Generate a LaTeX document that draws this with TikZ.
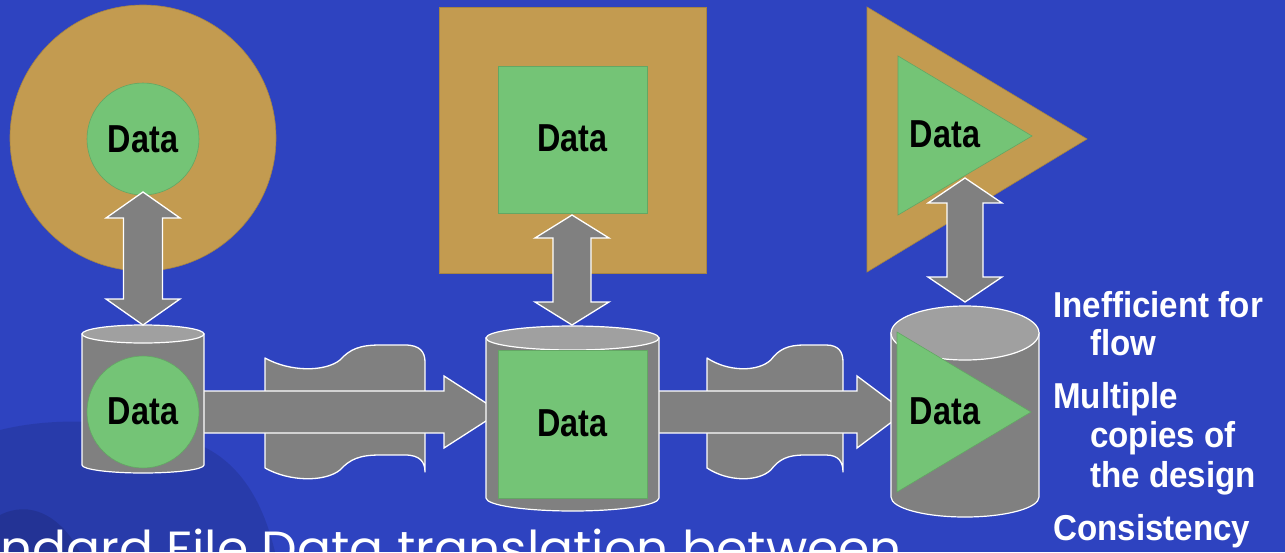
\documentclass[tikz,border=0pt]{standalone}
\usepackage{fontspec}
\newfontfamily\datafont{Liberation Sans}[FakeStretch=0.83]
\newfontfamily\notefont{Liberation Sans}[FakeStretch=0.92]
\newfontfamily\subfont{Poppins}
\definecolor{bg}{RGB}{46,67,192}
\definecolor{tanc}{RGB}{195,155,80}
\definecolor{grn}{RGB}{116,196,118}
\definecolor{gry}{RGB}{128,128,128}
\definecolor{gryl}{RGB}{160,160,160}
\tikzset{
  tanshape/.style={fill=tanc, draw=tanc!85!black, line width=0.6pt},
  grnshape/.style={fill=grn, draw=grn!85!black, line width=0.6pt},
  block/.style={fill=gry, draw=white, line width=1.3pt, line join=miter},
  cylbody/.style={fill=gry, draw=white, line width=1.2pt},
  cyltop/.style={fill=gryl, draw=white, line width=1.2pt},
  datalbl/.style={font=\datafont\bfseries\fontsize{39}{39}\selectfont, text=black, inner sep=0pt},
  note/.style={font=\notefont\bfseries\fontsize{36}{36}\selectfont, text=white, anchor=base west, inner sep=0pt}
}
\newcommand\vdarrow[6]{% cx, ytop, ybot, half shaft, half head, head length
  \draw[block] (#1,#2) -- (#1+#5,#2+#6) -- (#1+#4,#2+#6) -- (#1+#4,#3-#6) -- (#1+#5,#3-#6)
    -- (#1,#3) -- (#1-#5,#3-#6) -- (#1-#4,#3-#6) -- (#1-#4,#2+#6) -- (#1-#5,#2+#6) -- cycle;}
\newcommand\hsarrow[6]{% x0, xbase, xtip, yc, half shaft, half head
  \draw[block] (#1,#4-#5) -- (#2,#4-#5) -- (#2,#4-#6) -- (#3,#4) -- (#2,#4+#6) -- (#2,#4+#5) -- (#1,#4+#5);}
\newcommand\cyl[6]{% cx, rx, ytop, rytop, ybot, rybot
  \draw[cylbody] (#1-#2,#3) -- (#1-#2,#5) arc[start angle=180,end angle=360,x radius=#2pt,y radius=#6pt] -- (#1+#2,#3) -- cycle;
  \draw[cyltop] (#1,#3) ellipse[x radius=#2pt, y radius=#4pt];}
\newcommand\scrollat[2]{%
  \begin{scope}[shift={(#1,0)}, xscale=#2]
  \draw[block, line join=round] (0,358) .. controls (25,372) and (60,372) .. (75,360)
     .. controls (85,349) and (95,345) .. (115,345) -- (140,345)
     .. controls (155,345) and (160,352) .. (160,362) -- (160,472)
     .. controls (160,462) and (155,455) .. (140,455) -- (115,455)
     .. controls (95,455) and (85,459) .. (75,470)
     .. controls (60,482) and (25,482) .. (0,468) -- cycle;
  \end{scope}}
\begin{document}
\begin{tikzpicture}[x=1pt, y=-1pt]
\useasboundingbox (0,0) rectangle (1285,552);
\fill[bg] (0,0) rectangle (1285,552);
% faint background photo
\fill[black, opacity=0.11] (0,430) .. controls (60,415) and (140,420) .. (200,445)
   .. controls (245,465) and (265,510) .. (275,552) -- (0,552) -- cycle;
\fill[black, opacity=0.12] (0,515) .. controls (30,500) and (60,515) .. (80,552) -- (0,552) -- cycle;
% outer tan shapes
\fill[tanshape] (143,138) circle[radius=133pt];
\draw[tanshape] (439,7) rectangle (706,273);
\draw[tanshape] (867,7) -- (867,272) -- (1087,139) -- cycle;
% inner data shapes (top row)
\node[circle, grnshape, minimum size=112pt, inner sep=0pt] (c1) at (143,139) {};
\node[datalbl] (d1) at (c1.center) {Data};
\node[grnshape, minimum width=149pt, minimum height=147pt, inner sep=0pt] (s1) at (572.5,139.5) {};
\node[datalbl] (d2) at (572.5,138) {Data};
\draw[grnshape] (898,56) -- (898,215) -- (1032,136) -- cycle;
\node[datalbl] (d3) at (945,134) {Data};
% translation scrolls
\scrollat{265}{1}
\scrollat{707}{0.85}
% horizontal arrows
\hsarrow{195}{444}{500}{412}{21}{36}
\hsarrow{650}{857}{905}{412}{21}{36}
% cylinders
\cyl{143}{61}{334}{9}{465}{8}
\cyl{572.5}{86.5}{338}{12}{498}{13}
\cyl{965}{74}{333}{27}{497}{20}
% data in cylinders
\node[circle, grnshape, minimum size=112pt, inner sep=0pt] (c2) at (143,412) {};
\node[datalbl] (d4) at (143,411) {Data};
\node[grnshape, minimum width=149pt, minimum height=148pt, inner sep=0pt] (s2) at (572.5,424) {};
\node[datalbl] (d5) at (572.5,423) {Data};
\draw[grnshape] (897,332) -- (897,492) -- (1031,412) -- cycle;
\node[datalbl] (d6) at (945,411) {Data};
% vertical double arrows
\vdarrow{143}{192}{325}{19.5}{37}{26}
\vdarrow{572}{215}{325}{19}{37}{23}
\vdarrow{965}{178}{302}{18}{37}{25}
% notes
\node[note] (n1) at (1053,317) {Inefficient for};
\node[note] (n2) at (1090,355) {flow};
\node[note] (n3) at (1053,408) {Multiple};
\node[note] (n4) at (1090,447) {copies of};
\node[note] (n5) at (1090,487) {the design};
\node[note] (n6) at (1053,540) {Consistency};
% cut-off subtitle
\node[font=\subfont\fontsize{48}{48}\selectfont, text=white, anchor=base west, inner sep=0pt] (sub) at (0,565) {\scalebox{1.05}[1]{ndard File Data translation between}};
\end{tikzpicture}
\end{document}
